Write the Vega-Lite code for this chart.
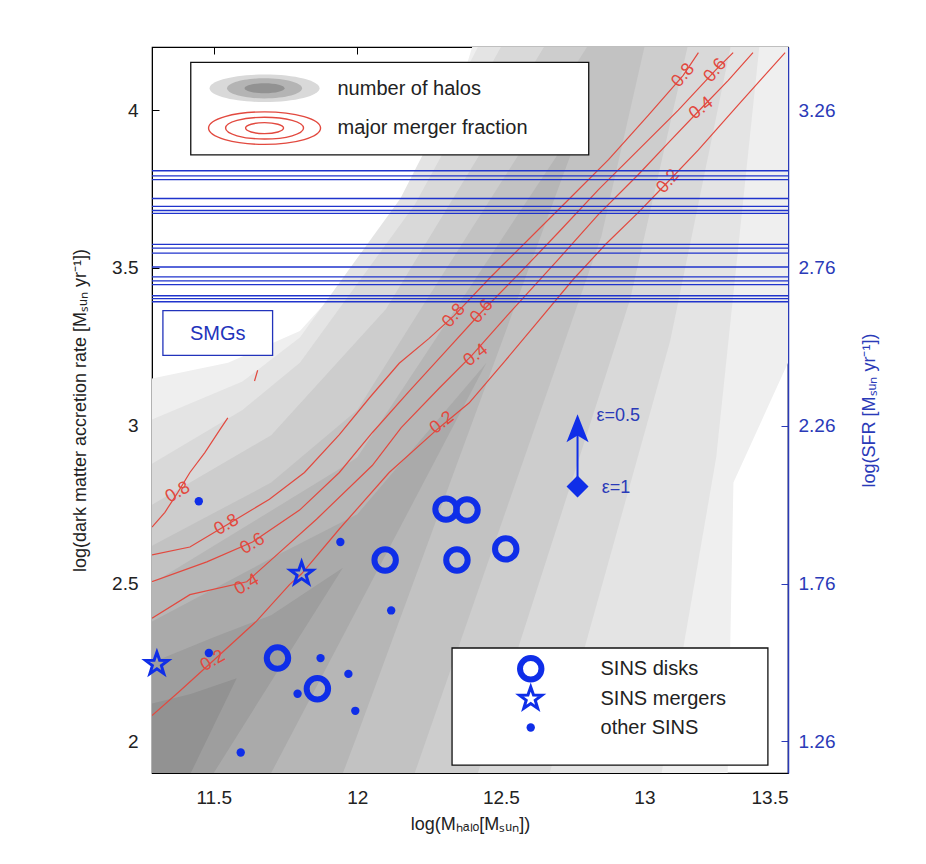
{
  "$schema": "https://vega.github.io/schema/vega-lite/v6.json",
  "width": 636,
  "height": 726,
  "autosize": {"type": "none"},
  "padding": {"left": 152, "top": 47, "right": 138, "bottom": 91},
  "background": "white",
  "config": {
    "view": {"stroke": "#000", "strokeWidth": 1.2},
    "font": "Liberation Sans",
    "axis": {"grid": false}
  },
  "datasets": {
    "gray": [
      {"lev": 1, "x": 11.285, "y": 1.9, "y2": 3.15},
      {"lev": 1, "x": 11.55, "y": 1.9, "y2": 3.2},
      {"lev": 1, "x": 11.8, "y": 1.9, "y2": 3.3},
      {"lev": 1, "x": 12.1, "y": 1.9, "y2": 3.6},
      {"lev": 1, "x": 12.3, "y": 1.9, "y2": 3.9},
      {"lev": 1, "x": 12.4, "y": 1.9, "y2": 4.2},
      {"lev": 1, "x": 13.29, "y": 1.9, "y2": 4.2},
      {"lev": 1, "x": 13.31, "y": 2.82, "y2": 4.2},
      {"lev": 1, "x": 13.5, "y": 3.2, "y2": 4.2},
      {"lev": 2, "x": 11.285, "y": 1.9, "y2": 3.02},
      {"lev": 2, "x": 11.6, "y": 1.9, "y2": 3.14},
      {"lev": 2, "x": 11.8, "y": 1.9, "y2": 3.28},
      {"lev": 2, "x": 12.15, "y": 1.9, "y2": 3.72},
      {"lev": 2, "x": 12.42, "y": 1.9, "y2": 4.2},
      {"lev": 2, "x": 13.06, "y": 1.9, "y2": 4.2},
      {"lev": 2, "x": 13.25, "y": 2.9, "y2": 4.2},
      {"lev": 2, "x": 13.4, "y": 4.2, "y2": 4.2},
      {"lev": 3, "x": 11.285, "y": 1.9, "y2": 2.88},
      {"lev": 3, "x": 11.6, "y": 1.9, "y2": 3.05},
      {"lev": 3, "x": 11.8, "y": 1.9, "y2": 3.2},
      {"lev": 3, "x": 12.2, "y": 1.9, "y2": 3.7},
      {"lev": 3, "x": 12.5, "y": 1.9, "y2": 4.2},
      {"lev": 3, "x": 12.67, "y": 1.9, "y2": 4.2},
      {"lev": 3, "x": 13.09, "y": 3.27, "y2": 4.2},
      {"lev": 3, "x": 13.3, "y": 4.2, "y2": 4.2},
      {"lev": 4, "x": 11.285, "y": 1.9, "y2": 2.75},
      {"lev": 4, "x": 11.7, "y": 1.9, "y2": 2.97},
      {"lev": 4, "x": 12.1, "y": 1.9, "y2": 3.37},
      {"lev": 4, "x": 12.42, "y": 1.9, "y2": 3.85},
      {"lev": 4, "x": 12.65, "y": 2.55, "y2": 4.2},
      {"lev": 4, "x": 12.95, "y": 3.4, "y2": 4.2},
      {"lev": 4, "x": 13.15, "y": 4.2, "y2": 4.2},
      {"lev": 5, "x": 11.285, "y": 1.9, "y2": 2.62},
      {"lev": 5, "x": 11.7, "y": 1.9, "y2": 2.82},
      {"lev": 5, "x": 12.0, "y": 1.9, "y2": 3.05},
      {"lev": 5, "x": 12.2, "y": 1.9, "y2": 3.34},
      {"lev": 5, "x": 12.8, "y": 3.47, "y2": 4.2},
      {"lev": 5, "x": 12.85, "y": 3.6, "y2": 4.2},
      {"lev": 5, "x": 13.0, "y": 4.2, "y2": 4.2},
      {"lev": 6, "x": 11.285, "y": 1.9, "y2": 2.5},
      {"lev": 6, "x": 11.95, "y": 1.9, "y2": 2.87},
      {"lev": 6, "x": 12.0, "y": 2.02, "y2": 2.9},
      {"lev": 6, "x": 12.8, "y": 4.0, "y2": 4.0},
      {"lev": 7, "x": 11.285, "y": 1.9, "y2": 2.38},
      {"lev": 7, "x": 11.7, "y": 1.9, "y2": 2.58},
      {"lev": 7, "x": 12.0, "y": 2.42, "y2": 2.72},
      {"lev": 7, "x": 12.45, "y": 3.2, "y2": 3.2},
      {"lev": 8, "x": 11.285, "y": 1.9, "y2": 2.25},
      {"lev": 8, "x": 11.5, "y": 1.9, "y2": 2.33},
      {"lev": 8, "x": 11.7, "y": 2.19, "y2": 2.4},
      {"lev": 8, "x": 11.95, "y": 2.55, "y2": 2.55},
      {"lev": 9, "x": 11.285, "y": 1.9, "y2": 2.12},
      {"lev": 9, "x": 11.42, "y": 1.9, "y2": 2.15},
      {"lev": 9, "x": 11.58, "y": 2.2, "y2": 2.2}
    ],
    "contours": [
      {"seg": "a", "o": 1, "x": 11.285, "y": 2.082},
      {"seg": "a", "o": 2, "x": 11.382, "y": 2.16},
      {"seg": "a", "o": 3, "x": 11.497, "y": 2.255},
      {"seg": "a", "o": 4, "x": 11.649, "y": 2.381},
      {"seg": "a", "o": 5, "x": 11.764, "y": 2.497},
      {"seg": "a", "o": 6, "x": 11.806, "y": 2.531},
      {"seg": "a", "o": 7, "x": 11.9375, "y": 2.673},
      {"seg": "a", "o": 8, "x": 12.111, "y": 2.852},
      {"seg": "a", "o": 9, "x": 12.285, "y": 2.994},
      {"seg": "a", "o": 10, "x": 12.389, "y": 3.072},
      {"seg": "a", "o": 11, "x": 12.517, "y": 3.208},
      {"seg": "a", "o": 12, "x": 12.632, "y": 3.333},
      {"seg": "a", "o": 13, "x": 12.753, "y": 3.465},
      {"seg": "a", "o": 14, "x": 12.865, "y": 3.575},
      {"seg": "a", "o": 15, "x": 12.979, "y": 3.676},
      {"seg": "a", "o": 16, "x": 13.083, "y": 3.774},
      {"seg": "a", "o": 17, "x": 13.188, "y": 3.874},
      {"seg": "a", "o": 18, "x": 13.326, "y": 4.016},
      {"seg": "a", "o": 19, "x": 13.49, "y": 4.182},
      {"seg": "b", "o": 1, "x": 11.285, "y": 2.39},
      {"seg": "b", "o": 2, "x": 11.417, "y": 2.465},
      {"seg": "b", "o": 3, "x": 11.615, "y": 2.506},
      {"seg": "b", "o": 4, "x": 11.705, "y": 2.579},
      {"seg": "b", "o": 5, "x": 11.858, "y": 2.704},
      {"seg": "b", "o": 6, "x": 12.052, "y": 2.874},
      {"seg": "b", "o": 7, "x": 12.153, "y": 2.994},
      {"seg": "b", "o": 8, "x": 12.285, "y": 3.119},
      {"seg": "b", "o": 9, "x": 12.399, "y": 3.223},
      {"seg": "b", "o": 10, "x": 12.528, "y": 3.355},
      {"seg": "b", "o": 11, "x": 12.701, "y": 3.528},
      {"seg": "b", "o": 12, "x": 12.84, "y": 3.67},
      {"seg": "b", "o": 13, "x": 12.979, "y": 3.796},
      {"seg": "b", "o": 14, "x": 13.083, "y": 3.896},
      {"seg": "b", "o": 15, "x": 13.198, "y": 4.006},
      {"seg": "b", "o": 16, "x": 13.292, "y": 4.094},
      {"seg": "b", "o": 17, "x": 13.378, "y": 4.182},
      {"seg": "c", "o": 1, "x": 11.285, "y": 2.506},
      {"seg": "c", "o": 2, "x": 11.476, "y": 2.569},
      {"seg": "c", "o": 3, "x": 11.635, "y": 2.632},
      {"seg": "c", "o": 4, "x": 11.799, "y": 2.733},
      {"seg": "c", "o": 5, "x": 11.9375, "y": 2.852},
      {"seg": "c", "o": 6, "x": 12.052, "y": 2.978},
      {"seg": "c", "o": 7, "x": 12.181, "y": 3.11},
      {"seg": "c", "o": 8, "x": 12.302, "y": 3.23},
      {"seg": "c", "o": 9, "x": 12.434, "y": 3.362},
      {"seg": "c", "o": 10, "x": 12.5625, "y": 3.481},
      {"seg": "c", "o": 11, "x": 12.701, "y": 3.613},
      {"seg": "c", "o": 12, "x": 12.84, "y": 3.748},
      {"seg": "c", "o": 13, "x": 12.979, "y": 3.874},
      {"seg": "c", "o": 14, "x": 13.118, "y": 4.0},
      {"seg": "c", "o": 15, "x": 13.247, "y": 4.126},
      {"seg": "c", "o": 16, "x": 13.309, "y": 4.182},
      {"seg": "d", "o": 1, "x": 11.285, "y": 2.591},
      {"seg": "d", "o": 2, "x": 11.417, "y": 2.616},
      {"seg": "d", "o": 3, "x": 11.545, "y": 2.686},
      {"seg": "d", "o": 4, "x": 11.694, "y": 2.767},
      {"seg": "d", "o": 5, "x": 11.816, "y": 2.852},
      {"seg": "d", "o": 6, "x": 11.9375, "y": 2.972},
      {"seg": "d", "o": 7, "x": 12.042, "y": 3.088},
      {"seg": "d", "o": 8, "x": 12.146, "y": 3.198},
      {"seg": "d", "o": 9, "x": 12.25, "y": 3.277},
      {"seg": "d", "o": 10, "x": 12.337, "y": 3.349},
      {"seg": "d", "o": 11, "x": 12.458, "y": 3.465},
      {"seg": "d", "o": 12, "x": 12.597, "y": 3.591},
      {"seg": "d", "o": 13, "x": 12.736, "y": 3.717},
      {"seg": "d", "o": 14, "x": 12.875, "y": 3.843},
      {"seg": "d", "o": 15, "x": 13.014, "y": 3.984},
      {"seg": "d", "o": 16, "x": 13.135, "y": 4.11},
      {"seg": "d", "o": 17, "x": 13.188, "y": 4.182},
      {"seg": "e", "o": 1, "x": 11.285, "y": 2.679},
      {"seg": "e", "o": 2, "x": 11.33, "y": 2.726},
      {"seg": "e", "o": 3, "x": 11.375, "y": 2.789},
      {"seg": "e", "o": 4, "x": 11.417, "y": 2.852},
      {"seg": "e", "o": 5, "x": 11.469, "y": 2.915},
      {"seg": "e", "o": 6, "x": 11.521, "y": 2.987},
      {"seg": "e", "o": 7, "x": 11.549, "y": 3.025},
      {"seg": "f", "o": 1, "x": 11.642, "y": 3.142},
      {"seg": "f", "o": 2, "x": 11.653, "y": 3.176}
    ],
    "clabels": [
      {"grp": "a", "t": "0.8", "x": 11.375, "y": 2.789},
      {"grp": "a", "t": "0.8", "x": 11.545, "y": 2.686},
      {"grp": "a", "t": "0.6", "x": 11.635, "y": 2.626},
      {"grp": "a", "t": "0.4", "x": 11.615, "y": 2.497},
      {"grp": "a", "t": "0.2", "x": 11.497, "y": 2.255},
      {"grp": "b", "t": "0.2", "x": 12.295, "y": 3.009},
      {"grp": "b", "t": "0.4", "x": 12.413, "y": 3.223},
      {"grp": "b", "t": "0.4", "x": 13.198, "y": 4.006},
      {"grp": "c", "t": "0.8", "x": 12.337, "y": 3.349},
      {"grp": "c", "t": "0.6", "x": 12.434, "y": 3.362},
      {"grp": "c", "t": "0.8", "x": 13.135, "y": 4.11},
      {"grp": "c", "t": "0.6", "x": 13.247, "y": 4.126},
      {"grp": "c", "t": "0.2", "x": 13.083, "y": 3.774}
    ],
    "smg": [
      {"y": 3.808}, {"y": 3.792}, {"y": 3.78}, {"y": 3.72}, {"y": 3.695},
      {"y": 3.682}, {"y": 3.673}, {"y": 3.575}, {"y": 3.563}, {"y": 3.547},
      {"y": 3.503}, {"y": 3.472}, {"y": 3.459}, {"y": 3.447}, {"y": 3.412},
      {"y": 3.403}, {"y": 3.393}
    ],
    "boxes": [
      {"box": "top", "x": 11.42, "x2": 12.806, "y": 3.858, "y2": 4.151},
      {"box": "bottom", "x": 12.33, "x2": 13.43, "y": 1.925, "y2": 2.296},
      {"box": "smg", "x": 11.323, "x2": 11.705, "y": 3.223, "y2": 3.365}
    ],
    "texts": [
      {"k": "black", "t": "number of halos", "x": 11.931, "y": 4.066},
      {"k": "black", "t": "major merger fraction", "x": 11.931, "y": 3.943},
      {"k": "black", "t": "SINS disks", "x": 12.847, "y": 2.23},
      {"k": "black", "t": "SINS mergers", "x": 12.847, "y": 2.135},
      {"k": "black", "t": "other SINS", "x": 12.847, "y": 2.044},
      {"k": "blue", "t": "ε=0.5", "x": 12.833, "y": 3.031},
      {"k": "blue", "t": "ε=1", "x": 12.851, "y": 2.804}
    ],
    "pts": [
      {"kind": "disk", "x": 12.309, "y": 2.736},
      {"kind": "disk", "x": 12.382, "y": 2.733},
      {"kind": "disk", "x": 12.517, "y": 2.61},
      {"kind": "disk", "x": 12.347, "y": 2.575},
      {"kind": "disk", "x": 12.097, "y": 2.575},
      {"kind": "disk", "x": 11.722, "y": 2.264},
      {"kind": "disk", "x": 11.861, "y": 2.167},
      {"kind": "disk", "x": 12.604, "y": 2.23},
      {"kind": "merger", "x": 11.806, "y": 2.531},
      {"kind": "merger", "x": 11.302, "y": 2.245},
      {"kind": "merger", "x": 12.604, "y": 2.135},
      {"kind": "other", "x": 11.448, "y": 2.761},
      {"kind": "other", "x": 11.941, "y": 2.632},
      {"kind": "other", "x": 12.118, "y": 2.415},
      {"kind": "other", "x": 11.483, "y": 2.28},
      {"kind": "other", "x": 11.872, "y": 2.264},
      {"kind": "other", "x": 11.969, "y": 2.214},
      {"kind": "other", "x": 11.792, "y": 2.151},
      {"kind": "other", "x": 11.993, "y": 2.097},
      {"kind": "other", "x": 11.594, "y": 1.965},
      {"kind": "other", "x": 12.604, "y": 2.044}
    ],
    "eps": [
      {"x": 12.767, "y": 2.808, "y2": 2.99}
    ],
    "legsym": [
      {"s": "g1", "x": 11.677, "y": 4.069},
      {"s": "g2", "x": 11.677, "y": 4.069},
      {"s": "g3", "x": 11.677, "y": 4.069},
      {"s": "r1", "x": 11.677, "y": 3.943},
      {"s": "r2", "x": 11.677, "y": 3.943},
      {"s": "r3", "x": 11.677, "y": 3.943}
    ],
    "dummy": [{"x": 12, "y": 2}]
  },
  "layer": [
    {
      "layer": [
        {
          "data": {"name": "gray"},
          "transform": [{"filter": "datum.lev === 1"}],
          "mark": {"type": "area", "clip": true, "color": "#efefef"},
          "encoding": {
            "x": {
              "field": "x", "type": "quantitative",
              "scale": {"domain": [11.285, 13.5], "nice": false, "zero": false},
              "axis": {
                "values": [11.5, 12, 12.5, 13, 13.5], "format": "~g",
                "title": "log(Mₕₐₗₒ[Mₛᵤₙ])",
                "tickSize": -7, "tickColor": "#000", "domainColor": "#000",
                "labelFontSize": 19, "labelColor": "#222", "labelPadding": 22,
                "titleFontSize": 18, "titleFontWeight": "normal", "titleColor": "#222", "titlePadding": 8
              }
            },
            "y": {
              "field": "y", "type": "quantitative",
              "scale": {"domain": [1.9, 4.2], "nice": false, "zero": false},
              "axis": {
                "values": [2, 2.5, 3, 3.5, 4], "format": "~g",
                "title": "log(dark matter accretion rate [Mₛᵤₙ yr⁻¹])",
                "tickSize": -7, "tickColor": "#000", "domainColor": "#000",
                "labelFontSize": 19, "labelColor": "#222", "labelPadding": 21,
                "titleFontSize": 18, "titleFontWeight": "normal", "titleColor": "#222", "titlePadding": 22
              }
            },
            "y2": {"field": "y2"}
          }
        },
        {
          "data": {"name": "gray"},
          "transform": [{"filter": "datum.lev === 2"}],
          "mark": {"type": "area", "clip": true, "color": "#e4e4e4"},
          "encoding": {"x": {"field": "x", "type": "quantitative"}, "y": {"field": "y", "type": "quantitative"}, "y2": {"field": "y2"}}
        },
        {
          "data": {"name": "gray"},
          "transform": [{"filter": "datum.lev === 3"}],
          "mark": {"type": "area", "clip": true, "color": "#d9d9d9"},
          "encoding": {"x": {"field": "x", "type": "quantitative"}, "y": {"field": "y", "type": "quantitative"}, "y2": {"field": "y2"}}
        },
        {
          "data": {"name": "gray"},
          "transform": [{"filter": "datum.lev === 4"}],
          "mark": {"type": "area", "clip": true, "color": "#cdcdcd"},
          "encoding": {"x": {"field": "x", "type": "quantitative"}, "y": {"field": "y", "type": "quantitative"}, "y2": {"field": "y2"}}
        },
        {
          "data": {"name": "gray"},
          "transform": [{"filter": "datum.lev === 5"}],
          "mark": {"type": "area", "clip": true, "color": "#c2c2c2"},
          "encoding": {"x": {"field": "x", "type": "quantitative"}, "y": {"field": "y", "type": "quantitative"}, "y2": {"field": "y2"}}
        },
        {
          "data": {"name": "gray"},
          "transform": [{"filter": "datum.lev === 6"}],
          "mark": {"type": "area", "clip": true, "color": "#b6b6b6"},
          "encoding": {"x": {"field": "x", "type": "quantitative"}, "y": {"field": "y", "type": "quantitative"}, "y2": {"field": "y2"}}
        },
        {
          "data": {"name": "gray"},
          "transform": [{"filter": "datum.lev === 7"}],
          "mark": {"type": "area", "clip": true, "color": "#aaaaaa"},
          "encoding": {"x": {"field": "x", "type": "quantitative"}, "y": {"field": "y", "type": "quantitative"}, "y2": {"field": "y2"}}
        },
        {
          "data": {"name": "gray"},
          "transform": [{"filter": "datum.lev === 8"}],
          "mark": {"type": "area", "clip": true, "color": "#9e9e9e"},
          "encoding": {"x": {"field": "x", "type": "quantitative"}, "y": {"field": "y", "type": "quantitative"}, "y2": {"field": "y2"}}
        },
        {
          "data": {"name": "gray"},
          "transform": [{"filter": "datum.lev === 9"}],
          "mark": {"type": "area", "clip": true, "color": "#929292"},
          "encoding": {"x": {"field": "x", "type": "quantitative"}, "y": {"field": "y", "type": "quantitative"}, "y2": {"field": "y2"}}
        },
        {
          "data": {"name": "contours"},
          "mark": {"type": "line", "color": "#e2493f", "strokeWidth": 1.2, "clip": true},
          "encoding": {
            "x": {"field": "x", "type": "quantitative"},
            "y": {"field": "y", "type": "quantitative"},
            "detail": {"field": "seg", "type": "nominal"},
            "order": {"field": "o", "type": "quantitative"}
          }
        },
        {
          "data": {"name": "clabels"},
          "transform": [{"filter": "datum.grp === 'a'"}],
          "mark": {"type": "text", "color": "#e2493f", "fontSize": 18, "angle": -30},
          "encoding": {
            "x": {"field": "x", "type": "quantitative"},
            "y": {"field": "y", "type": "quantitative"},
            "text": {"field": "t"}
          }
        },
        {
          "data": {"name": "clabels"},
          "transform": [{"filter": "datum.grp === 'b'"}],
          "mark": {"type": "text", "color": "#e2493f", "fontSize": 18, "angle": -38},
          "encoding": {
            "x": {"field": "x", "type": "quantitative"},
            "y": {"field": "y", "type": "quantitative"},
            "text": {"field": "t"}
          }
        },
        {
          "data": {"name": "clabels"},
          "transform": [{"filter": "datum.grp === 'c'"}],
          "mark": {"type": "text", "color": "#e2493f", "fontSize": 18, "angle": -50},
          "encoding": {
            "x": {"field": "x", "type": "quantitative"},
            "y": {"field": "y", "type": "quantitative"},
            "text": {"field": "t"}
          }
        },
        {
          "data": {"name": "smg"},
          "mark": {"type": "rule", "color": "#1f33cc", "strokeWidth": 1.3},
          "encoding": {
            "y": {"field": "y", "type": "quantitative"}
          }
        },
        {
          "data": {"name": "boxes"},
          "transform": [{"filter": "datum.box !== 'smg'"}],
          "mark": {"type": "rect", "fill": "white", "stroke": "#111", "strokeWidth": 1.3},
          "encoding": {
            "x": {"field": "x", "type": "quantitative"},
            "x2": {"field": "x2"},
            "y": {"field": "y", "type": "quantitative"},
            "y2": {"field": "y2"}
          }
        },
        {
          "data": {"name": "boxes"},
          "transform": [{"filter": "datum.box === 'smg'"}],
          "mark": {"type": "rect", "fill": "white", "stroke": "#2233bb", "strokeWidth": 1.3},
          "encoding": {
            "x": {"field": "x", "type": "quantitative"},
            "x2": {"field": "x2"},
            "y": {"field": "y", "type": "quantitative"},
            "y2": {"field": "y2"}
          }
        },
        {
          "data": {"values": [{"t": "SMGs", "x": 11.514, "y": 3.292}]},
          "mark": {"type": "text", "color": "#2233bb", "fontSize": 20},
          "encoding": {
            "x": {"field": "x", "type": "quantitative"},
            "y": {"field": "y", "type": "quantitative"},
            "text": {"field": "t"}
          }
        },
        {
          "data": {"name": "legsym"},
          "transform": [{"filter": "datum.s === 'g1'"}],
          "mark": {"type": "point", "filled": true, "color": "#d9d9d9", "opacity": 1, "shape": "M-1,0A1,0.25,0,1,0,1,0A1,0.25,0,1,0,-1,0Z", "size": 12100},
          "encoding": {"x": {"field": "x", "type": "quantitative"}, "y": {"field": "y", "type": "quantitative"}}
        },
        {
          "data": {"name": "legsym"},
          "transform": [{"filter": "datum.s === 'g2'"}],
          "mark": {"type": "point", "filled": true, "color": "#b4b4b4", "opacity": 1, "shape": "M-1,0A1,0.27,0,1,0,1,0A1,0.27,0,1,0,-1,0Z", "size": 5625},
          "encoding": {"x": {"field": "x", "type": "quantitative"}, "y": {"field": "y", "type": "quantitative"}}
        },
        {
          "data": {"name": "legsym"},
          "transform": [{"filter": "datum.s === 'g3'"}],
          "mark": {"type": "point", "filled": true, "color": "#929292", "opacity": 1, "shape": "M-1,0A1,0.25,0,1,0,1,0A1,0.25,0,1,0,-1,0Z", "size": 1600},
          "encoding": {"x": {"field": "x", "type": "quantitative"}, "y": {"field": "y", "type": "quantitative"}}
        },
        {
          "data": {"name": "legsym"},
          "transform": [{"filter": "datum.s === 'r1'"}],
          "mark": {"type": "point", "filled": false, "color": "#e2493f", "strokeWidth": 1.4, "opacity": 1, "shape": "M-1,0A1,0.29,0,1,0,1,0A1,0.29,0,1,0,-1,0Z", "size": 12544},
          "encoding": {"x": {"field": "x", "type": "quantitative"}, "y": {"field": "y", "type": "quantitative"}}
        },
        {
          "data": {"name": "legsym"},
          "transform": [{"filter": "datum.s === 'r2'"}],
          "mark": {"type": "point", "filled": false, "color": "#e2493f", "strokeWidth": 1.4, "opacity": 1, "shape": "M-1,0A1,0.28,0,1,0,1,0A1,0.28,0,1,0,-1,0Z", "size": 6084},
          "encoding": {"x": {"field": "x", "type": "quantitative"}, "y": {"field": "y", "type": "quantitative"}}
        },
        {
          "data": {"name": "legsym"},
          "transform": [{"filter": "datum.s === 'r3'"}],
          "mark": {"type": "point", "filled": false, "color": "#e2493f", "strokeWidth": 1.4, "opacity": 1, "shape": "M-1,0A1,0.29,0,1,0,1,0A1,0.29,0,1,0,-1,0Z", "size": 1444},
          "encoding": {"x": {"field": "x", "type": "quantitative"}, "y": {"field": "y", "type": "quantitative"}}
        },
        {
          "data": {"name": "texts"},
          "transform": [{"filter": "datum.k === 'black'"}],
          "mark": {"type": "text", "align": "left", "baseline": "middle", "color": "#222", "fontSize": 20},
          "encoding": {
            "x": {"field": "x", "type": "quantitative"},
            "y": {"field": "y", "type": "quantitative"},
            "text": {"field": "t"}
          }
        },
        {
          "data": {"name": "texts"},
          "transform": [{"filter": "datum.k === 'blue'"}],
          "mark": {"type": "text", "align": "left", "baseline": "middle", "color": "#2a3ab8", "fontSize": 18},
          "encoding": {
            "x": {"field": "x", "type": "quantitative"},
            "y": {"field": "y", "type": "quantitative"},
            "text": {"field": "t"}
          }
        },
        {
          "data": {"name": "pts"},
          "transform": [{"filter": "datum.kind === 'disk'"}],
          "mark": {"type": "point", "shape": "circle", "filled": false, "color": "#0f2ee8", "strokeWidth": 6, "size": 460, "opacity": 1},
          "encoding": {"x": {"field": "x", "type": "quantitative"}, "y": {"field": "y", "type": "quantitative"}}
        },
        {
          "data": {"name": "pts"},
          "transform": [{"filter": "datum.kind === 'merger'"}],
          "mark": {"type": "point", "shape": "M0,-1L0.235,-0.324L0.951,-0.309L0.38,0.124L0.588,0.809L0,0.4L-0.588,0.809L-0.38,0.124L-0.951,-0.309L-0.235,-0.324Z", "filled": false, "color": "#0f2ee8", "strokeWidth": 3, "size": 560, "opacity": 1},
          "encoding": {"x": {"field": "x", "type": "quantitative"}, "y": {"field": "y", "type": "quantitative"}}
        },
        {
          "data": {"name": "pts"},
          "transform": [{"filter": "datum.kind === 'other'"}],
          "mark": {"type": "point", "shape": "circle", "filled": true, "color": "#0f2ee8", "size": 70, "opacity": 1},
          "encoding": {"x": {"field": "x", "type": "quantitative"}, "y": {"field": "y", "type": "quantitative"}}
        },
        {
          "data": {"name": "eps"},
          "mark": {"type": "rule", "color": "#0f2ee8", "strokeWidth": 2},
          "encoding": {
            "x": {"field": "x", "type": "quantitative"},
            "y": {"field": "y", "type": "quantitative"},
            "y2": {"field": "y2"}
          }
        },
        {
          "data": {"name": "eps"},
          "mark": {"type": "point", "shape": "M0,-1L1,0L0,1L-1,0Z", "filled": true, "color": "#0f2ee8", "size": 484, "opacity": 1},
          "encoding": {"x": {"field": "x", "type": "quantitative"}, "y": {"field": "y", "type": "quantitative"}}
        },
        {
          "data": {"name": "eps"},
          "mark": {"type": "point", "shape": "M0,-1L0.75,0.9L0,0.45L-0.75,0.9Z", "filled": true, "color": "#0f2ee8", "size": 870, "opacity": 1},
          "encoding": {"x": {"field": "x", "type": "quantitative"}, "y": {"field": "y2", "type": "quantitative"}}
        }
      ]
    },
    {
      "data": {"name": "dummy"},
      "mark": {"type": "point", "opacity": 0},
      "encoding": {
        "x": {
          "field": "x", "type": "quantitative",
          "scale": {"domain": [11.285, 13.5], "nice": false, "zero": false},
          "axis": {"orient": "top", "values": [11.5, 12, 12.5, 13], "labels": false, "title": null, "tickSize": -7, "tickColor": "#000", "domain": false}
        },
        "y": {
          "field": "y", "type": "quantitative",
          "scale": {"domain": [1.16, 3.46], "nice": false, "zero": false},
          "axis": {
            "orient": "right", "values": [1.26, 1.76, 2.26, 2.76, 3.26], "format": ".2f",
            "title": "log(SFR [Mₛᵤₙ yr⁻¹])", "titleAngle": 270,
            "tickSize": -7, "tickColor": "#2a3ab8", "domainColor": "#2a3ab8", "domainWidth": 1.5,
            "labelFontSize": 19, "labelColor": "#2a3ab8", "labelPadding": 17,
            "titleFontSize": 18, "titleFontWeight": "normal", "titleColor": "#2a3ab8", "titlePadding": 44
          }
        }
      }
    }
  ],
  "resolve": {"scale": {"y": "independent"}, "axis": {"x": "independent"}}
}
